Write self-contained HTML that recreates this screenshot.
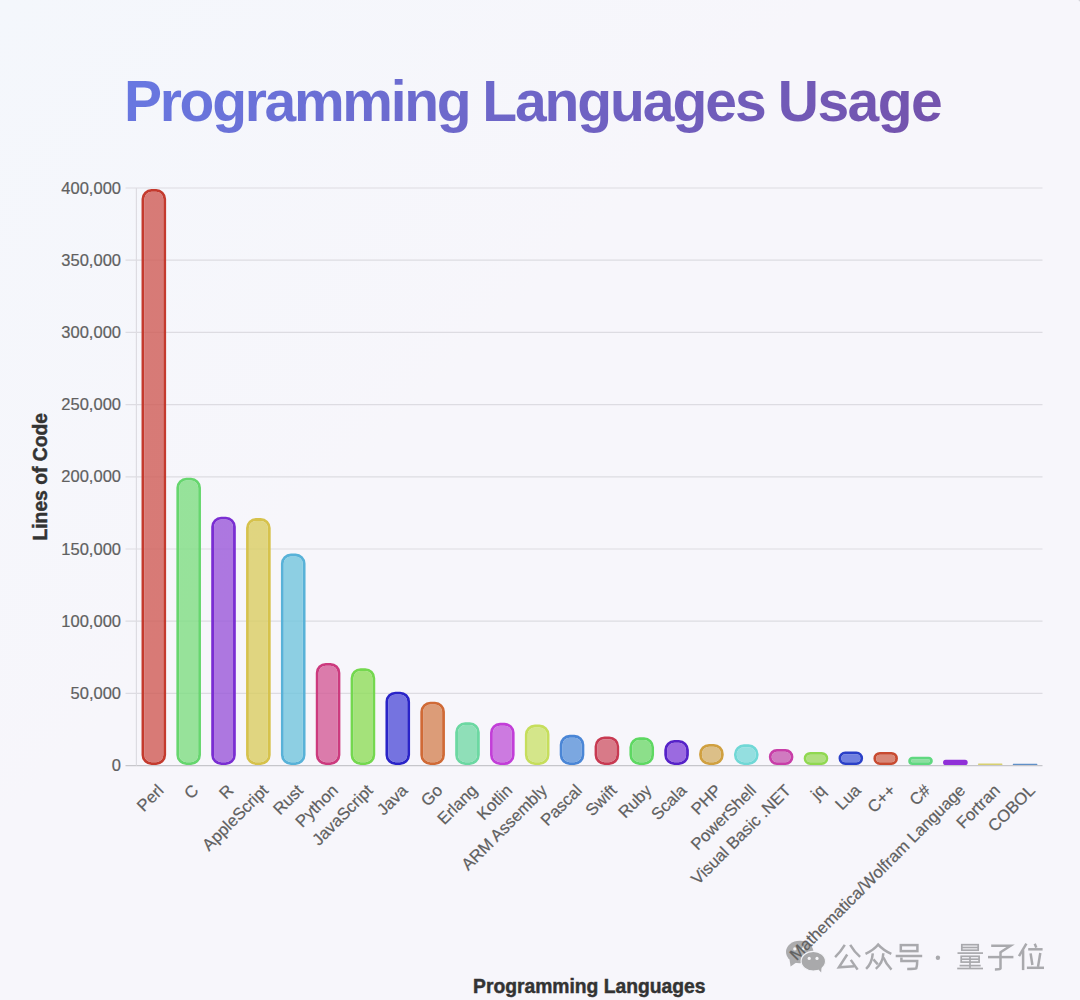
<!DOCTYPE html>
<html><head><meta charset="utf-8">
<style>
html,body{margin:0;padding:0;}
body{width:1080px;height:1000px;overflow:hidden;position:relative;background:linear-gradient(135deg,#f4f7fc 0%,#f7f6fb 40%,#f7f6fb 100%);font-family:"Liberation Sans",sans-serif;}
#title{position:absolute;left:0;width:956px;padding-left:124px;top:72.6px;padding-bottom:16px;white-space:nowrap;font-weight:bold;font-size:57px;line-height:1;letter-spacing:-2.06px;
background:linear-gradient(135deg,#667eea 0%,#764ba2 100%);-webkit-background-clip:text;background-clip:text;color:transparent;}
svg{position:absolute;left:0;top:0;}
.tk{font-size:16.5px;fill:#606060;stroke:#606060;stroke-width:0.2px;font-family:"Liberation Sans",sans-serif;}
.at{font-size:19.3px;font-weight:bold;fill:#333;stroke:#333;stroke-width:0.45px;font-family:"Liberation Sans",sans-serif;}
</style></head><body>
<div id="title"><span style="letter-spacing:-2.29px">Programming</span><span style="word-spacing:-0.97px"> </span><span>Languages</span><span style="word-spacing:-0.6px"> </span><span style="letter-spacing:-1.51px">Usage</span></div>
<svg width="1080" height="1000" viewBox="0 0 1080 1000">

<g id="wm">
<g fill="#acacae">
<ellipse cx="799.7" cy="952" rx="13.7" ry="11.3"/>
<path d="M789.5,959.5 L790.6,966.6 L797,962 Z"/>
</g>
<circle cx="794.8" cy="948.9" r="1.6" fill="#f4f4f7"/>
<circle cx="803.2" cy="948.9" r="1.6" fill="#f4f4f7"/>
<g fill="#a9a9ab" stroke="#f4f4f8" stroke-width="1.1">
<ellipse cx="813.3" cy="961.2" rx="12.2" ry="9.8"/>
</g>
<path d="M817.5,968.5 L821.2,972.6 L821.5,967 Z" fill="#a9a9ab"/>
<circle cx="809.2" cy="958.4" r="1.6" fill="#f4f4f7"/>
<circle cx="817.0" cy="958.4" r="1.6" fill="#f4f4f7"/>
<g fill="none" stroke="#a9a9ad" stroke-width="2.5" stroke-linecap="butt" stroke-linejoin="miter">
<!-- 公 -->
<path d="M844.8,944.8 Q840.5,951.8 835.1,957.2"/>
<path d="M850.2,944.8 Q854.5,952 860.1,956.9"/>
<path d="M847.2,954.5 L838.9,967.3 L854.5,966.3"/>
<path d="M850.8,959.9 L857.6,969.6"/>
<!-- 众 -->
<path d="M865.5,953.9 Q874,950 878.2,944.6 Q883,950 891.3,953.9"/>
<path d="M872.8,953.3 Q872,963 866.1,968.9"/>
<path d="M873.4,959.3 L877.8,964.3"/>
<path d="M883.3,953.3 Q883,963 875.8,968.9"/>
<path d="M883.4,957.5 Q886,964 891.5,969.6"/>
<!-- 号 -->
<rect x="900.8" y="945.1" width="16.6" height="6.0"/>
<path d="M895.7,956.0 H922.2"/>
<path d="M901.4,957.6 V961.1 H917.2 Q917.2,966 916.3,968.3 Q915.5,969 907.2,969"/>
<!-- 量 -->
<g stroke-width="1.7">
<rect x="961.8" y="944.7" width="16.4" height="5.5"/>
<path d="M961.8,947.5 H978.2"/>
<path d="M957.5,953.1 H983"/>
<rect x="961.2" y="956.3" width="17.9" height="5.8"/>
<path d="M961.2,959.2 H979.1"/>
<path d="M970,956.3 V968.5"/>
<path d="M959.6,965.6 H980.7"/>
<path d="M957.2,968.5 H983"/>
</g>
<!-- 子 -->
<path d="M991.2,945.7 H1010.6 L1000.5,952.3"/>
<path d="M1000.5,951.5 V968.7 Q1000.5,969.4 994.9,969.4"/>
<path d="M988,957.1 H1013.4"/>
<!-- 位 -->
<path d="M1026.4,943.7 L1019,956.2"/>
<path d="M1023.1,950.2 V970.1"/>
<path d="M1034.7,943.7 L1036.3,947.6"/>
<path d="M1028.2,949.3 H1042.6"/>
<path d="M1030.6,953.4 L1032.4,965"/>
<path d="M1040.3,953 L1038,966.9"/>
<path d="M1026.9,967.8 H1044"/>
</g>
<circle cx="937.9" cy="957.8" r="2.2" fill="#a9a9ad"/>
</g>
<defs><radialGradient id="cb"><stop offset="0" stop-color="#8a8a90"/><stop offset="1" stop-color="#f7f6fb" stop-opacity="0"/></radialGradient></defs>
<circle cx="1080.5" cy="-0.5" r="3.2" fill="url(#cb)"/>

<line x1="125.5" y1="765.60" x2="1042.5" y2="765.60" stroke="#c6c6cb" stroke-width="1.2"/>
<text x="121" y="771.20" text-anchor="end" class="tk">0</text>
<line x1="125.5" y1="693.40" x2="1042.5" y2="693.40" stroke="#dddce2" stroke-width="1.2"/>
<text x="121" y="699.00" text-anchor="end" class="tk">50,000</text>
<line x1="125.5" y1="621.20" x2="1042.5" y2="621.20" stroke="#dddce2" stroke-width="1.2"/>
<text x="121" y="626.80" text-anchor="end" class="tk">100,000</text>
<line x1="125.5" y1="549.00" x2="1042.5" y2="549.00" stroke="#dddce2" stroke-width="1.2"/>
<text x="121" y="554.60" text-anchor="end" class="tk">150,000</text>
<line x1="125.5" y1="476.80" x2="1042.5" y2="476.80" stroke="#dddce2" stroke-width="1.2"/>
<text x="121" y="482.40" text-anchor="end" class="tk">200,000</text>
<line x1="125.5" y1="404.60" x2="1042.5" y2="404.60" stroke="#dddce2" stroke-width="1.2"/>
<text x="121" y="410.20" text-anchor="end" class="tk">250,000</text>
<line x1="125.5" y1="332.40" x2="1042.5" y2="332.40" stroke="#dddce2" stroke-width="1.2"/>
<text x="121" y="338.00" text-anchor="end" class="tk">300,000</text>
<line x1="125.5" y1="260.20" x2="1042.5" y2="260.20" stroke="#dddce2" stroke-width="1.2"/>
<text x="121" y="265.80" text-anchor="end" class="tk">350,000</text>
<line x1="125.5" y1="188.00" x2="1042.5" y2="188.00" stroke="#dddce2" stroke-width="1.2"/>
<text x="121" y="193.60" text-anchor="end" class="tk">400,000</text>
<line x1="136.4" y1="188" x2="136.4" y2="765.6" stroke="#dddce2" stroke-width="1.2"/>
<path d="M151.53,189.01H156.12A10.00,10.00 0 0 1 166.12,199.01V755.00A10.00,10.00 0 0 1 156.12,765.00H151.53A10.00,10.00 0 0 1 141.53,755.00V199.01A10.00,10.00 0 0 1 151.53,189.01Z M151.53,191.81H156.13A7.20,7.20 0 0 1 163.33,199.01V755.00A7.20,7.20 0 0 1 156.13,762.20H151.53A7.20,7.20 0 0 1 144.33,755.00V199.01A7.20,7.20 0 0 1 151.53,191.81Z" fill="#c43a2e" fill-rule="evenodd"/>
<path d="M151.53,191.81H156.13A7.20,7.20 0 0 1 163.33,199.01V755.00A7.20,7.20 0 0 1 156.13,762.20H151.53A7.20,7.20 0 0 1 144.33,755.00V199.01A7.20,7.20 0 0 1 151.53,191.81Z" fill="rgba(208,91,85,0.8)"/>
<text transform="translate(160.83,787.60) rotate(-45)" text-anchor="end" class="tk xl" y="5.5" style="font-size:16.65px">Perl</text>
<path d="M186.38,477.81H190.97A10.00,10.00 0 0 1 200.97,487.81V755.00A10.00,10.00 0 0 1 190.97,765.00H186.38A10.00,10.00 0 0 1 176.38,755.00V487.81A10.00,10.00 0 0 1 186.38,477.81Z M186.38,480.61H190.98A7.20,7.20 0 0 1 198.18,487.81V755.00A7.20,7.20 0 0 1 190.98,762.20H186.38A7.20,7.20 0 0 1 179.18,755.00V487.81A7.20,7.20 0 0 1 186.38,480.61Z" fill="#66d66e" fill-rule="evenodd"/>
<path d="M186.38,480.61H190.98A7.20,7.20 0 0 1 198.18,487.81V755.00A7.20,7.20 0 0 1 190.98,762.20H186.38A7.20,7.20 0 0 1 179.18,755.00V487.81A7.20,7.20 0 0 1 186.38,480.61Z" fill="rgba(126,221,130,0.8)"/>
<text transform="translate(195.68,787.60) rotate(-45)" text-anchor="end" class="tk xl" y="5.5" style="font-size:16.65px">C</text>
<path d="M221.22,516.80H225.82A10.00,10.00 0 0 1 235.82,526.80V755.00A10.00,10.00 0 0 1 225.82,765.00H221.22A10.00,10.00 0 0 1 211.22,755.00V526.80A10.00,10.00 0 0 1 221.22,516.80Z M221.22,519.60H225.83A7.20,7.20 0 0 1 233.03,526.80V755.00A7.20,7.20 0 0 1 225.83,762.20H221.22A7.20,7.20 0 0 1 214.03,755.00V526.80A7.20,7.20 0 0 1 221.22,519.60Z" fill="#7a2ed2" fill-rule="evenodd"/>
<path d="M221.22,519.60H225.83A7.20,7.20 0 0 1 233.03,526.80V755.00A7.20,7.20 0 0 1 225.83,762.20H221.22A7.20,7.20 0 0 1 214.03,755.00V526.80A7.20,7.20 0 0 1 221.22,519.60Z" fill="rgba(154,87,217,0.8)"/>
<text transform="translate(230.53,787.60) rotate(-45)" text-anchor="end" class="tk xl" y="5.5" style="font-size:16.65px">R</text>
<path d="M256.07,518.10H260.68A10.00,10.00 0 0 1 270.68,528.10V755.00A10.00,10.00 0 0 1 260.68,765.00H256.07A10.00,10.00 0 0 1 246.07,755.00V528.10A10.00,10.00 0 0 1 256.07,518.10Z M256.07,520.90H260.68A7.20,7.20 0 0 1 267.88,528.10V755.00A7.20,7.20 0 0 1 260.68,762.20H256.07A7.20,7.20 0 0 1 248.88,755.00V528.10A7.20,7.20 0 0 1 256.07,520.90Z" fill="#d6c24c" fill-rule="evenodd"/>
<path d="M256.07,520.90H260.68A7.20,7.20 0 0 1 267.88,528.10V755.00A7.20,7.20 0 0 1 260.68,762.20H256.07A7.20,7.20 0 0 1 248.88,755.00V528.10A7.20,7.20 0 0 1 256.07,520.90Z" fill="rgba(218,205,97,0.8)"/>
<text transform="translate(265.38,787.60) rotate(-45)" text-anchor="end" class="tk xl" y="5.5" style="font-size:16.65px">AppleScript</text>
<path d="M290.93,553.62H295.53A10.00,10.00 0 0 1 305.53,563.62V755.00A10.00,10.00 0 0 1 295.53,765.00H290.93A10.00,10.00 0 0 1 280.93,755.00V563.62A10.00,10.00 0 0 1 290.93,553.62Z M290.93,556.42H295.53A7.20,7.20 0 0 1 302.73,563.62V755.00A7.20,7.20 0 0 1 295.53,762.20H290.93A7.20,7.20 0 0 1 283.73,755.00V563.62A7.20,7.20 0 0 1 290.93,556.42Z" fill="#58b2d8" fill-rule="evenodd"/>
<path d="M290.93,556.42H295.53A7.20,7.20 0 0 1 302.73,563.62V755.00A7.20,7.20 0 0 1 295.53,762.20H290.93A7.20,7.20 0 0 1 283.73,755.00V563.62A7.20,7.20 0 0 1 290.93,556.42Z" fill="rgba(114,198,221,0.8)"/>
<text transform="translate(300.23,787.60) rotate(-45)" text-anchor="end" class="tk xl" y="5.5" style="font-size:16.65px">Rust</text>
<path d="M325.78,662.93H330.38A10.00,10.00 0 0 1 340.38,672.93V755.00A10.00,10.00 0 0 1 330.38,765.00H325.78A10.00,10.00 0 0 1 315.78,755.00V672.93A10.00,10.00 0 0 1 325.78,662.93Z M325.78,665.73H330.38A7.20,7.20 0 0 1 337.58,672.93V755.00A7.20,7.20 0 0 1 330.38,762.20H325.78A7.20,7.20 0 0 1 318.58,755.00V672.93A7.20,7.20 0 0 1 325.78,665.73Z" fill="#cc3a7e" fill-rule="evenodd"/>
<path d="M325.78,665.73H330.38A7.20,7.20 0 0 1 337.58,672.93V755.00A7.20,7.20 0 0 1 330.38,762.20H325.78A7.20,7.20 0 0 1 318.58,755.00V672.93A7.20,7.20 0 0 1 325.78,665.73Z" fill="rgba(211,92,151,0.8)"/>
<text transform="translate(335.08,787.60) rotate(-45)" text-anchor="end" class="tk xl" y="5.5" style="font-size:16.65px">Python</text>
<path d="M360.62,668.13H365.23A10.00,10.00 0 0 1 375.23,678.13V755.00A10.00,10.00 0 0 1 365.23,765.00H360.62A10.00,10.00 0 0 1 350.62,755.00V678.13A10.00,10.00 0 0 1 360.62,668.13Z M360.62,670.93H365.23A7.20,7.20 0 0 1 372.43,678.13V755.00A7.20,7.20 0 0 1 365.23,762.20H360.62A7.20,7.20 0 0 1 353.43,755.00V678.13A7.20,7.20 0 0 1 360.62,670.93Z" fill="#74d84e" fill-rule="evenodd"/>
<path d="M360.62,670.93H365.23A7.20,7.20 0 0 1 372.43,678.13V755.00A7.20,7.20 0 0 1 365.23,762.20H360.62A7.20,7.20 0 0 1 353.43,755.00V678.13A7.20,7.20 0 0 1 360.62,670.93Z" fill="rgba(142,221,90,0.8)"/>
<text transform="translate(369.93,787.60) rotate(-45)" text-anchor="end" class="tk xl" y="5.5" style="font-size:16.65px">JavaScript</text>
<path d="M395.47,691.67H400.07A10.00,10.00 0 0 1 410.07,701.67V755.00A10.00,10.00 0 0 1 400.07,765.00H395.47A10.00,10.00 0 0 1 385.47,755.00V701.67A10.00,10.00 0 0 1 395.47,691.67Z M395.47,694.47H400.07A7.20,7.20 0 0 1 407.27,701.67V755.00A7.20,7.20 0 0 1 400.07,762.20H395.47A7.20,7.20 0 0 1 388.27,755.00V701.67A7.20,7.20 0 0 1 395.47,694.47Z" fill="#2a24c8" fill-rule="evenodd"/>
<path d="M395.47,694.47H400.07A7.20,7.20 0 0 1 407.27,701.67V755.00A7.20,7.20 0 0 1 400.07,762.20H395.47A7.20,7.20 0 0 1 388.27,755.00V701.67A7.20,7.20 0 0 1 395.47,694.47Z" fill="rgba(84,82,217,0.8)"/>
<text transform="translate(404.77,787.60) rotate(-45)" text-anchor="end" class="tk xl" y="5.5" style="font-size:16.65px">Java</text>
<path d="M430.32,701.78H434.93A10.00,10.00 0 0 1 444.93,711.78V755.00A10.00,10.00 0 0 1 434.93,765.00H430.32A10.00,10.00 0 0 1 420.32,755.00V711.78A10.00,10.00 0 0 1 430.32,701.78Z M430.32,704.58H434.93A7.20,7.20 0 0 1 442.12,711.78V755.00A7.20,7.20 0 0 1 434.93,762.20H430.32A7.20,7.20 0 0 1 423.12,755.00V711.78A7.20,7.20 0 0 1 430.32,704.58Z" fill="#d06a36" fill-rule="evenodd"/>
<path d="M430.32,704.58H434.93A7.20,7.20 0 0 1 442.12,711.78V755.00A7.20,7.20 0 0 1 434.93,762.20H430.32A7.20,7.20 0 0 1 423.12,755.00V711.78A7.20,7.20 0 0 1 430.32,704.58Z" fill="rgba(213,134,87,0.8)"/>
<text transform="translate(439.62,787.60) rotate(-45)" text-anchor="end" class="tk xl" y="5.5" style="font-size:16.65px">Go</text>
<path d="M465.18,722.28H469.78A10.00,10.00 0 0 1 479.78,732.28V755.00A10.00,10.00 0 0 1 469.78,765.00H465.18A10.00,10.00 0 0 1 455.18,755.00V732.28A10.00,10.00 0 0 1 465.18,722.28Z M465.18,725.08H469.78A7.20,7.20 0 0 1 476.98,732.28V755.00A7.20,7.20 0 0 1 469.78,762.20H465.18A7.20,7.20 0 0 1 457.98,755.00V732.28A7.20,7.20 0 0 1 465.18,725.08Z" fill="#6cd8a2" fill-rule="evenodd"/>
<path d="M465.18,725.08H469.78A7.20,7.20 0 0 1 476.98,732.28V755.00A7.20,7.20 0 0 1 469.78,762.20H465.18A7.20,7.20 0 0 1 457.98,755.00V732.28A7.20,7.20 0 0 1 465.18,725.08Z" fill="rgba(116,218,167,0.8)"/>
<text transform="translate(474.48,787.60) rotate(-45)" text-anchor="end" class="tk xl" y="5.5" style="font-size:16.65px">Erlang</text>
<path d="M500.03,722.86H504.62A10.00,10.00 0 0 1 514.62,732.86V755.00A10.00,10.00 0 0 1 504.62,765.00H500.03A10.00,10.00 0 0 1 490.03,755.00V732.86A10.00,10.00 0 0 1 500.03,722.86Z M500.03,725.66H504.63A7.20,7.20 0 0 1 511.83,732.86V755.00A7.20,7.20 0 0 1 504.63,762.20H500.03A7.20,7.20 0 0 1 492.83,755.00V732.86A7.20,7.20 0 0 1 500.03,725.66Z" fill="#c23ed8" fill-rule="evenodd"/>
<path d="M500.03,725.66H504.63A7.20,7.20 0 0 1 511.83,732.86V755.00A7.20,7.20 0 0 1 504.63,762.20H500.03A7.20,7.20 0 0 1 492.83,755.00V732.86A7.20,7.20 0 0 1 500.03,725.66Z" fill="rgba(193,91,217,0.8)"/>
<text transform="translate(509.33,787.60) rotate(-45)" text-anchor="end" class="tk xl" y="5.5" style="font-size:16.65px">Kotlin</text>
<path d="M534.88,724.59H539.48A10.00,10.00 0 0 1 549.48,734.59V755.00A10.00,10.00 0 0 1 539.48,765.00H534.88A10.00,10.00 0 0 1 524.88,755.00V734.59A10.00,10.00 0 0 1 534.88,724.59Z M534.88,727.39H539.48A7.20,7.20 0 0 1 546.68,734.59V755.00A7.20,7.20 0 0 1 539.48,762.20H534.88A7.20,7.20 0 0 1 527.68,755.00V734.59A7.20,7.20 0 0 1 534.88,727.39Z" fill="#c6de5c" fill-rule="evenodd"/>
<path d="M534.88,727.39H539.48A7.20,7.20 0 0 1 546.68,734.59V755.00A7.20,7.20 0 0 1 539.48,762.20H534.88A7.20,7.20 0 0 1 527.68,755.00V734.59A7.20,7.20 0 0 1 534.88,727.39Z" fill="rgba(203,226,110,0.8)"/>
<text transform="translate(544.18,787.60) rotate(-45)" text-anchor="end" class="tk xl" y="5.5" style="font-size:16.65px">ARM Assembly</text>
<path d="M569.73,734.84H574.33A10.00,10.00 0 0 1 584.33,744.84V755.00A10.00,10.00 0 0 1 574.33,765.00H569.73A10.00,10.00 0 0 1 559.73,755.00V744.84A10.00,10.00 0 0 1 569.73,734.84Z M569.73,737.64H574.32A7.20,7.20 0 0 1 581.52,744.84V755.00A7.20,7.20 0 0 1 574.32,762.20H569.73A7.20,7.20 0 0 1 562.52,755.00V744.84A7.20,7.20 0 0 1 569.73,737.64Z" fill="#4a86d6" fill-rule="evenodd"/>
<path d="M569.73,737.64H574.32A7.20,7.20 0 0 1 581.52,744.84V755.00A7.20,7.20 0 0 1 574.32,762.20H569.73A7.20,7.20 0 0 1 562.52,755.00V744.84A7.20,7.20 0 0 1 569.73,737.64Z" fill="rgba(91,148,217,0.8)"/>
<text transform="translate(579.02,787.60) rotate(-45)" text-anchor="end" class="tk xl" y="5.5" style="font-size:16.65px">Pascal</text>
<path d="M604.58,736.43H609.18A10.00,10.00 0 0 1 619.18,746.43V755.00A10.00,10.00 0 0 1 609.18,765.00H604.58A10.00,10.00 0 0 1 594.58,755.00V746.43A10.00,10.00 0 0 1 604.58,736.43Z M604.58,739.23H609.17A7.20,7.20 0 0 1 616.38,746.43V755.00A7.20,7.20 0 0 1 609.17,762.20H604.58A7.20,7.20 0 0 1 597.38,755.00V746.43A7.20,7.20 0 0 1 604.58,739.23Z" fill="#c83a52" fill-rule="evenodd"/>
<path d="M604.58,739.23H609.17A7.20,7.20 0 0 1 616.38,746.43V755.00A7.20,7.20 0 0 1 609.17,762.20H604.58A7.20,7.20 0 0 1 597.38,755.00V746.43A7.20,7.20 0 0 1 604.58,739.23Z" fill="rgba(208,91,107,0.8)"/>
<text transform="translate(613.88,787.60) rotate(-45)" text-anchor="end" class="tk xl" y="5.5" style="font-size:16.65px">Swift</text>
<path d="M639.43,737.30H644.03A10.00,10.00 0 0 1 654.03,747.30V755.00A10.00,10.00 0 0 1 644.03,765.00H639.43A10.00,10.00 0 0 1 629.43,755.00V747.30A10.00,10.00 0 0 1 639.43,737.30Z M639.43,740.10H644.02A7.20,7.20 0 0 1 651.23,747.30V755.00A7.20,7.20 0 0 1 644.02,762.20H639.43A7.20,7.20 0 0 1 632.23,755.00V747.30A7.20,7.20 0 0 1 639.43,740.10Z" fill="#5ed862" fill-rule="evenodd"/>
<path d="M639.43,740.10H644.02A7.20,7.20 0 0 1 651.23,747.30V755.00A7.20,7.20 0 0 1 644.02,762.20H639.43A7.20,7.20 0 0 1 632.23,755.00V747.30A7.20,7.20 0 0 1 639.43,740.10Z" fill="rgba(113,218,110,0.8)"/>
<text transform="translate(648.73,787.60) rotate(-45)" text-anchor="end" class="tk xl" y="5.5" style="font-size:16.65px">Ruby</text>
<path d="M674.28,740.04H678.88A10.00,10.00 0 0 1 688.88,750.04V755.00A10.00,10.00 0 0 1 678.88,765.00H674.28A10.00,10.00 0 0 1 664.28,755.00V750.04A10.00,10.00 0 0 1 674.28,740.04Z M674.28,742.84H678.88A7.20,7.20 0 0 1 686.08,750.04V755.00A7.20,7.20 0 0 1 678.88,762.20H674.28A7.20,7.20 0 0 1 667.08,755.00V750.04A7.20,7.20 0 0 1 674.28,742.84Z" fill="#5622c8" fill-rule="evenodd"/>
<path d="M674.28,742.84H678.88A7.20,7.20 0 0 1 686.08,750.04V755.00A7.20,7.20 0 0 1 678.88,762.20H674.28A7.20,7.20 0 0 1 667.08,755.00V750.04A7.20,7.20 0 0 1 674.28,742.84Z" fill="rgba(131,71,217,0.8)"/>
<text transform="translate(683.58,787.60) rotate(-45)" text-anchor="end" class="tk xl" y="5.5" style="font-size:16.65px">Scala</text>
<path d="M709.12,743.94H713.73A10.00,10.00 0 0 1 723.73,753.94V755.00A10.00,10.00 0 0 1 713.73,765.00H709.12A10.00,10.00 0 0 1 699.12,755.00V753.94A10.00,10.00 0 0 1 709.12,743.94Z M709.12,746.74H713.72A7.20,7.20 0 0 1 720.92,753.94V755.00A7.20,7.20 0 0 1 713.72,762.20H709.12A7.20,7.20 0 0 1 701.92,755.00V753.94A7.20,7.20 0 0 1 709.12,746.74Z" fill="#d0a040" fill-rule="evenodd"/>
<path d="M709.12,746.74H713.72A7.20,7.20 0 0 1 720.92,753.94V755.00A7.20,7.20 0 0 1 713.72,762.20H709.12A7.20,7.20 0 0 1 701.92,755.00V753.94A7.20,7.20 0 0 1 709.12,746.74Z" fill="rgba(213,178,107,0.8)"/>
<text transform="translate(718.42,787.60) rotate(-45)" text-anchor="end" class="tk xl" y="5.5" style="font-size:16.65px">PHP</text>
<path d="M743.98,744.37H748.58A10.00,10.00 0 0 1 758.58,754.37V755.00A10.00,10.00 0 0 1 748.58,765.00H743.98A10.00,10.00 0 0 1 733.98,755.00V754.37A10.00,10.00 0 0 1 743.98,744.37Z M743.98,747.17H748.57A7.20,7.20 0 0 1 755.77,754.37V755.00A7.20,7.20 0 0 1 748.57,762.20H743.98A7.20,7.20 0 0 1 736.77,755.00V754.37A7.20,7.20 0 0 1 743.98,747.17Z" fill="#70d8d6" fill-rule="evenodd"/>
<path d="M743.98,747.17H748.57A7.20,7.20 0 0 1 755.77,754.37V755.00A7.20,7.20 0 0 1 748.57,762.20H743.98A7.20,7.20 0 0 1 736.77,755.00V754.37A7.20,7.20 0 0 1 743.98,747.17Z" fill="rgba(123,218,217,0.8)"/>
<text transform="translate(753.27,787.60) rotate(-45)" text-anchor="end" class="tk xl" y="5.5" style="font-size:16.65px">PowerShell</text>
<path d="M776.83,748.99H785.42A8.00,8.00 0 0 1 793.43,757.00V757.00A8.00,8.00 0 0 1 785.42,765.00H776.83A8.00,8.00 0 0 1 768.83,757.00V757.00A8.00,8.00 0 0 1 776.83,748.99Z M776.83,751.79H785.42A5.20,5.20 0 0 1 790.62,757.00V757.00A5.20,5.20 0 0 1 785.42,762.20H776.83A5.20,5.20 0 0 1 771.62,757.00V757.00A5.20,5.20 0 0 1 776.83,751.79Z" fill="#c83ea8" fill-rule="evenodd"/>
<path d="M776.83,751.79H785.42A5.20,5.20 0 0 1 790.62,757.00V757.00A5.20,5.20 0 0 1 785.42,762.20H776.83A5.20,5.20 0 0 1 771.62,757.00V757.00A5.20,5.20 0 0 1 776.83,751.79Z" fill="rgba(198,91,177,0.8)"/>
<text transform="translate(788.12,787.60) rotate(-45)" text-anchor="end" class="tk xl" y="5.5" style="font-size:16.65px">Visual Basic .NET</text>
<path d="M810.23,751.88H821.72A6.56,6.56 0 0 1 828.28,758.44V758.44A6.56,6.56 0 0 1 821.72,765.00H810.23A6.56,6.56 0 0 1 803.68,758.44V758.44A6.56,6.56 0 0 1 810.23,751.88Z M810.23,754.68H821.72A3.76,3.76 0 0 1 825.48,758.44V758.44A3.76,3.76 0 0 1 821.72,762.20H810.23A3.76,3.76 0 0 1 806.48,758.44V758.44A3.76,3.76 0 0 1 810.23,754.68Z" fill="#90d850" fill-rule="evenodd"/>
<path d="M810.23,754.68H821.72A3.76,3.76 0 0 1 825.48,758.44V758.44A3.76,3.76 0 0 1 821.72,762.20H810.23A3.76,3.76 0 0 1 806.48,758.44V758.44A3.76,3.76 0 0 1 810.23,754.68Z" fill="rgba(158,218,97,0.8)"/>
<text transform="translate(822.98,787.60) rotate(-45)" text-anchor="end" class="tk xl" y="5.5" style="font-size:16.65px">jq</text>
<path d="M845.30,751.45H856.35A6.78,6.78 0 0 1 863.13,758.22V758.22A6.78,6.78 0 0 1 856.35,765.00H845.30A6.78,6.78 0 0 1 838.53,758.22V758.22A6.78,6.78 0 0 1 845.30,751.45Z M845.30,754.25H856.35A3.98,3.98 0 0 1 860.33,758.22V758.22A3.98,3.98 0 0 1 856.35,762.20H845.30A3.98,3.98 0 0 1 841.33,758.22V758.22A3.98,3.98 0 0 1 845.30,754.25Z" fill="#2a40c8" fill-rule="evenodd"/>
<path d="M845.30,754.25H856.35A3.98,3.98 0 0 1 860.33,758.22V758.22A3.98,3.98 0 0 1 856.35,762.20H845.30A3.98,3.98 0 0 1 841.33,758.22V758.22A3.98,3.98 0 0 1 845.30,754.25Z" fill="rgba(78,99,217,0.8)"/>
<text transform="translate(857.83,787.60) rotate(-45)" text-anchor="end" class="tk xl" y="5.5" style="font-size:16.65px">Lua</text>
<path d="M879.93,751.88H891.42A6.56,6.56 0 0 1 897.98,758.44V758.44A6.56,6.56 0 0 1 891.42,765.00H879.93A6.56,6.56 0 0 1 873.38,758.44V758.44A6.56,6.56 0 0 1 879.93,751.88Z M879.93,754.68H891.42A3.76,3.76 0 0 1 895.17,758.44V758.44A3.76,3.76 0 0 1 891.42,762.20H879.93A3.76,3.76 0 0 1 876.17,758.44V758.44A3.76,3.76 0 0 1 879.93,754.68Z" fill="#c84a30" fill-rule="evenodd"/>
<path d="M879.93,754.68H891.42A3.76,3.76 0 0 1 895.17,758.44V758.44A3.76,3.76 0 0 1 891.42,762.20H879.93A3.76,3.76 0 0 1 876.17,758.44V758.44A3.76,3.76 0 0 1 879.93,754.68Z" fill="rgba(208,109,87,0.8)"/>
<text transform="translate(892.67,787.60) rotate(-45)" text-anchor="end" class="tk xl" y="5.5" style="font-size:16.65px">C++</text>
<path d="M912.33,756.79H928.72A4.10,4.10 0 0 1 932.83,760.90V760.90A4.10,4.10 0 0 1 928.72,765.00H912.33A4.10,4.10 0 0 1 908.23,760.90V760.90A4.10,4.10 0 0 1 912.33,756.79Z M912.33,759.59H928.72A1.30,1.30 0 0 1 930.02,760.90V760.90A1.30,1.30 0 0 1 928.72,762.20H912.33A1.30,1.30 0 0 1 911.02,760.90V760.90A1.30,1.30 0 0 1 912.33,759.59Z" fill="#60d880" fill-rule="evenodd"/>
<path d="M912.33,759.59H928.72A1.30,1.30 0 0 1 930.02,760.90V760.90A1.30,1.30 0 0 1 928.72,762.20H912.33A1.30,1.30 0 0 1 911.02,760.90V760.90A1.30,1.30 0 0 1 912.33,759.59Z" fill="rgba(113,218,137,0.8)"/>
<text transform="translate(927.52,787.60) rotate(-45)" text-anchor="end" class="tk xl" y="5.5" style="font-size:16.65px">C#</text>
<path d="M945.66,759.82H965.09A2.59,2.59 0 0 1 967.68,762.41V762.41A2.59,2.59 0 0 1 965.09,765.00H945.66A2.59,2.59 0 0 1 943.08,762.41V762.41A2.59,2.59 0 0 1 945.66,759.82Z" fill="#9030d8"/>
<text transform="translate(962.38,787.60) rotate(-45)" text-anchor="end" class="tk xl" y="5.5" style="font-size:16.65px">Mathematica/Wolfram Language</text>
<path d="M978.71,763.43H1001.74A0.78,0.78 0 0 1 1002.53,764.22V764.22A0.78,0.78 0 0 1 1001.74,765.00H978.71A0.78,0.78 0 0 1 977.93,764.22V764.22A0.78,0.78 0 0 1 978.71,763.43Z" fill="#d8d070"/>
<text transform="translate(997.23,787.60) rotate(-45)" text-anchor="end" class="tk xl" y="5.5" style="font-size:16.65px">Fortran</text>
<path d="M1013.34,763.87H1036.81A0.57,0.57 0 0 1 1037.38,764.43V764.43A0.57,0.57 0 0 1 1036.81,765.00H1013.34A0.57,0.57 0 0 1 1012.78,764.43V764.43A0.57,0.57 0 0 1 1013.34,763.87Z" fill="#6090c8"/>
<text transform="translate(1032.08,787.60) rotate(-45)" text-anchor="end" class="tk xl" y="5.5" style="font-size:16.65px">COBOL</text>
<text transform="translate(47,476.8) rotate(-90)" text-anchor="middle" class="at">Lines of Code</text>
<text x="589.3" y="993.3" text-anchor="middle" class="at">Programming Languages</text>
</svg>
</body></html>
